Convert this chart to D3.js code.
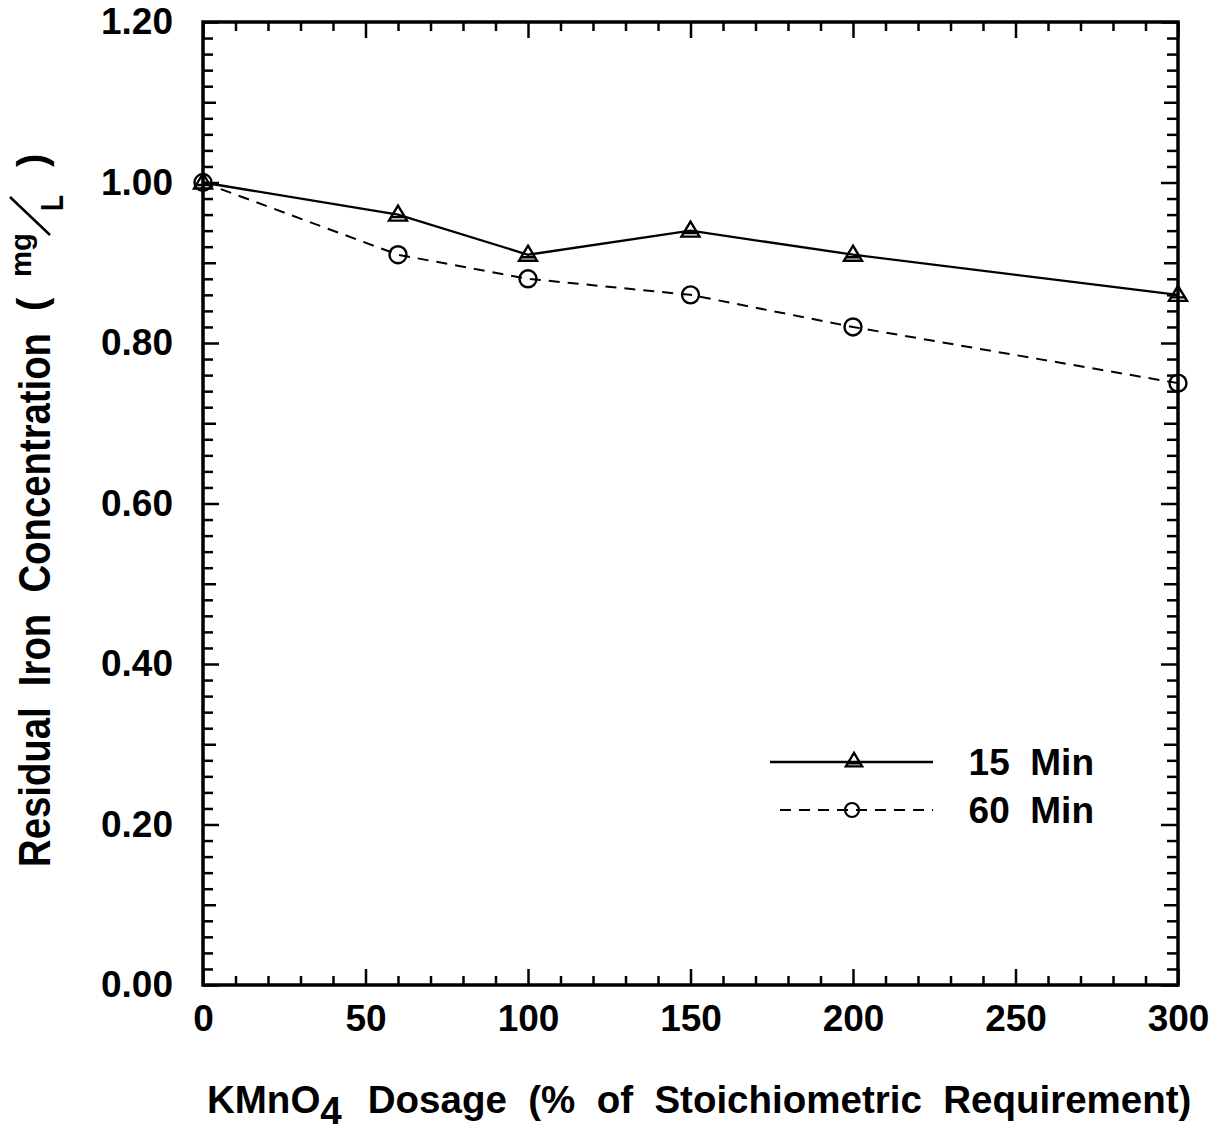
<!doctype html>
<html>
<head>
<meta charset="utf-8">
<title>Residual Iron vs KMnO4 Dosage</title>
<script src="https://d3js.org/d3.v7.min.js"></script>
<style>
  body { margin: 0; background: #fff; }
  svg { display: block; }
  text { font-family: "Liberation Sans", Arial, Helvetica, sans-serif; font-weight: bold; fill: #000; }
  .tick line { stroke: #000; stroke-width: 2.5; }
  .tick text { font-size: 37px; font-family: "Liberation Sans", Arial, sans-serif; font-weight: bold; }
  .pre { white-space: pre; }
</style>
</head>
<body>
<script>
// data
const dosage15 = [0, 60, 100, 150, 200, 300];
const iron15   = [1.00, 0.96, 0.91, 0.94, 0.91, 0.86];
const dosage60 = [0, 60, 100, 150, 200, 300];
const iron60   = [1.00, 0.91, 0.88, 0.86, 0.82, 0.75];

const xTicks = [0, 50, 100, 150, 200, 250, 300];
const yTicks = [0.00, 0.20, 0.40, 0.60, 0.80, 1.00, 1.20];
const seriesNames = ["15  Min", "60  Min"];

const w = 1228, h = 1135;
const pLeft = 203, pRight = 1178, pTop = 22, pBottom = 985;

const svg = d3.select("body").append("svg")
    .attr("width", w)
    .attr("height", h);

const x = d3.scaleLinear().domain([0, 300]).range([pLeft, pRight]);
const y = d3.scaleLinear().domain([0, 1.2]).range([pBottom, pTop]);

// minor / medium ticks (no labels)
const xMinor = d3.range(0, 301, 10).filter(v => v % 50 !== 0);
const yMinor = d3.range(0, 61).map(i => i * 0.02).filter((v, i) => i % 5 !== 0);
const yMid = [0.1, 0.3, 0.5, 0.7, 0.9, 1.1];

function addAxis(gen, tx, ty) {
    const g = svg.append("g")
        .attr("transform", "translate(" + tx + "," + ty + ")")
        .call(gen);
    g.select(".domain").remove();
    return g;
}

// bottom
addAxis(d3.axisBottom(x).tickValues(xMinor).tickSize(-9).tickFormat(""), 0, pBottom);
addAxis(d3.axisBottom(x).tickValues(xTicks).tickSize(-16).tickPadding(20).tickFormat(d3.format("d")), 0, pBottom)
    .selectAll("text").attr("dy", "0.71em");
// top
addAxis(d3.axisTop(x).tickValues(xMinor).tickSize(-9).tickFormat(""), 0, pTop);
addAxis(d3.axisTop(x).tickValues(xTicks).tickSize(-16).tickFormat(""), 0, pTop);
// left
addAxis(d3.axisLeft(y).tickValues(yMinor).tickSize(-10).tickFormat(""), pLeft, 0);
addAxis(d3.axisLeft(y).tickValues(yMid).tickSize(-13).tickFormat(""), pLeft, 0);
addAxis(d3.axisLeft(y).tickValues(yTicks).tickSize(-16).tickPadding(30).tickFormat(d3.format(".2f")), pLeft, 0);
// right
addAxis(d3.axisRight(y).tickValues(yMinor).tickSize(-11).tickFormat(""), pRight, 0);
addAxis(d3.axisRight(y).tickValues(yMid).tickSize(-14).tickFormat(""), pRight, 0);
addAxis(d3.axisRight(y).tickValues(yTicks).tickSize(-17).tickFormat(""), pRight, 0);

// frame
svg.append("rect")
    .attr("x", pLeft).attr("y", pTop)
    .attr("width", pRight - pLeft).attr("height", pBottom - pTop)
    .attr("fill", "none")
    .attr("stroke", "#000")
    .attr("stroke-width", 3.5);

// series
const s15 = dosage15.map((d, i) => [d, iron15[i]]);
const s60 = dosage60.map((d, i) => [d, iron60[i]]);
const line = d3.line().x(d => x(d[0])).y(d => y(d[1]));

svg.append("path").datum(s15)
    .attr("d", line)
    .attr("fill", "none").attr("stroke", "#000").attr("stroke-width", 2.3);

svg.append("path").datum(s60)
    .attr("d", line)
    .attr("fill", "none").attr("stroke", "#000").attr("stroke-width", 2)
    .attr("stroke-dasharray", "11,8");

function triangle(g, cx, cy, s) {
    g.append("path")
        .attr("d", "M" + cx + "," + (cy - 9 * s) + "L" + (cx + 9 * s) + "," + (cy + 6 * s) +
                   "L" + (cx - 9 * s) + "," + (cy + 6 * s) + "Z" +
                   "M" + (cx - 7 * s) + "," + (cy + 2.5 * s) + "L" + (cx + 7 * s) + "," + (cy + 2.5 * s))
        .attr("fill", "none").attr("stroke", "#000").attr("stroke-width", 2.4);
}

const markers = svg.append("g");
s15.forEach(d => triangle(markers, x(d[0]), y(d[1]), 1));
markers.selectAll("circle")
    .data(s60)
    .enter()
    .append("circle")
    .attr("cx", d => x(d[0]))
    .attr("cy", d => y(d[1]))
    .attr("r", 8.5)
    .attr("fill", "none")
    .attr("stroke", "#000")
    .attr("stroke-width", 2.4);

// legend
const leg = svg.append("g");
leg.append("line").attr("x1", 770).attr("x2", 933).attr("y1", 762).attr("y2", 762)
    .attr("stroke", "#000").attr("stroke-width", 2.3);
triangle(leg, 854, 761, 0.9);
leg.append("line").attr("x1", 780).attr("x2", 933).attr("y1", 810).attr("y2", 810)
    .attr("stroke", "#000").attr("stroke-width", 2).attr("stroke-dasharray", "11,8");
leg.append("circle").attr("cx", 852).attr("cy", 810).attr("r", 7)
    .attr("fill", "none").attr("stroke", "#000").attr("stroke-width", 2.2);
leg.selectAll("text.lg")
    .data(seriesNames)
    .enter()
    .append("text")
    .attr("class", "lg pre")
    .attr("x", 1094)
    .attr("y", (d, i) => 775 + i * 48)
    .attr("text-anchor", "end")
    .style("font-size", "37px")
    .text(d => d);

// x axis title
const xt = svg.append("text")
    .attr("class", "pre")
    .attr("x", 207)
    .attr("y", 1113)
    .style("font-size", "38.5px");
xt.append("tspan").text("KMnO");
xt.append("tspan").attr("dy", 11).text("4");
xt.append("tspan").attr("dy", -11).attr("dx", 26).text("Dosage  (%  of  Stoichiometric  Requirement)");

// y axis title (rotated)
const yt = svg.append("g").attr("transform", "rotate(-90)");
yt.append("text")
    .attr("class", "pre")
    .attr("x", -867).attr("y", 50)
    .attr("textLength", 534)
    .attr("lengthAdjust", "spacingAndGlyphs")
    .style("font-size", "44px")
    .text("Residual  Iron  Concentration");
yt.append("text").attr("x", -311).attr("y", 46).style("font-size", "40px").text("(");
yt.append("text").attr("x", -277).attr("y", 31)
    .attr("textLength", 44).attr("lengthAdjust", "spacingAndGlyphs")
    .style("font-size", "30px").text("mg");
yt.append("text").attr("x", -211).attr("y", 63)
    .attr("textLength", 16).attr("lengthAdjust", "spacingAndGlyphs")
    .style("font-size", "32px").text("L");
yt.append("text").attr("x", -167).attr("y", 46).style("font-size", "40px").text(")");
svg.append("line")
    .attr("x1", 10).attr("y1", 197).attr("x2", 50).attr("y2", 235)
    .attr("stroke", "#000").attr("stroke-width", 2.5);
</script>
</body>
</html>
